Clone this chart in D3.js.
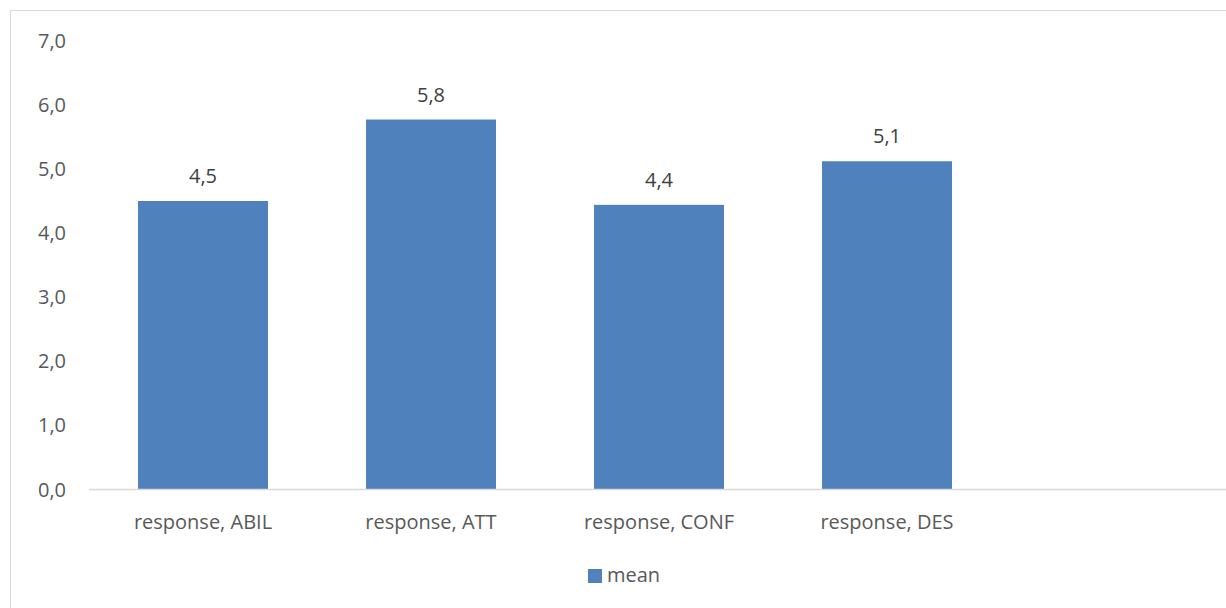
<!DOCTYPE html>
<html>
<head>
<meta charset="utf-8">
<script src="https://cdn.jsdelivr.net/npm/d3@7"></script>
<style>
  body { margin: 0; background: #fff; }
  svg { display: block; }
</style>
</head>
<body>
<svg id="chart"></svg>
<script>
const width = 1226;
const height = 608;

// chart data
const categories = ["response, ABIL", "response, ATT", "response, CONF", "response, DES"];
const means = [4.49, 5.76, 4.43, 5.11];
const yTicks = [0, 1, 2, 3, 4, 5, 6, 7];
const seriesName = "mean";

const font = "'Open Sans', sans-serif";
const fontSize = "20px";
const textColor = "#595959";
const barColor = "#4f81bd";

const svg = d3.select("#chart")
  .attr("width", width)
  .attr("height", height)
  .style("font-family", font);

// chart frame (runs past the right and bottom edges)
svg.append("rect")
  .attr("x", 10.5)
  .attr("y", 10.5)
  .attr("width", 1300)
  .attr("height", 700)
  .attr("fill", "none")
  .attr("stroke", "#d9d9d9");

// 5 slots on the axis, the last one is empty
const x = d3.scaleBand()
  .domain([...categories, ""])
  .range([89, 1229])
  .paddingInner(0.43)
  .paddingOuter(0.215);

const y = d3.scaleLinear()
  .domain([0, 7])
  .range([489, 40]);

const fmt = v => v.toFixed(1).replace(".", ",");

// y labels
svg.append("g")
  .selectAll("text")
  .data(yTicks)
  .join("text")
  .attr("x", 66)
  .attr("y", d => y(d) + 7.5)
  .attr("text-anchor", "end")
  .attr("fill", textColor)
  .style("font-size", fontSize)
  .text(fmt);

// bars
svg.append("g")
  .selectAll("rect")
  .data(means)
  .join("rect")
  .attr("x", (d, i) => x(categories[i]))
  .attr("y", d => y(d))
  .attr("width", x.bandwidth())
  .attr("height", d => y(0) - y(d))
  .attr("fill", barColor);

// x axis line
svg.append("line")
  .attr("x1", 89)
  .attr("x2", width)
  .attr("y1", y(0) + 0.5)
  .attr("y2", y(0) + 0.5)
  .attr("stroke", "#d9d9d9")
  .attr("stroke-width", 1.5);

// data labels
svg.append("g")
  .selectAll("text")
  .data(means)
  .join("text")
  .attr("x", (d, i) => x(categories[i]) + x.bandwidth() / 2)
  .attr("y", d => y(d) - 18)
  .attr("text-anchor", "middle")
  .attr("fill", "#404040")
  .style("font-size", fontSize)
  .text(fmt);

// category labels
svg.append("g")
  .selectAll("text")
  .data(categories)
  .join("text")
  .attr("x", d => x(d) + x.bandwidth() / 2)
  .attr("y", 528.5)
  .attr("text-anchor", "middle")
  .attr("fill", textColor)
  .style("font-size", fontSize)
  .text(d => d);

// legend
const legend = svg.append("g");
legend.append("rect")
  .attr("x", 588)
  .attr("y", 569)
  .attr("width", 14)
  .attr("height", 14)
  .attr("fill", barColor);
legend.append("text")
  .attr("x", 607)
  .attr("y", 582)
  .attr("fill", textColor)
  .style("font-size", fontSize)
  .text(seriesName);
</script>
</body>
</html>
